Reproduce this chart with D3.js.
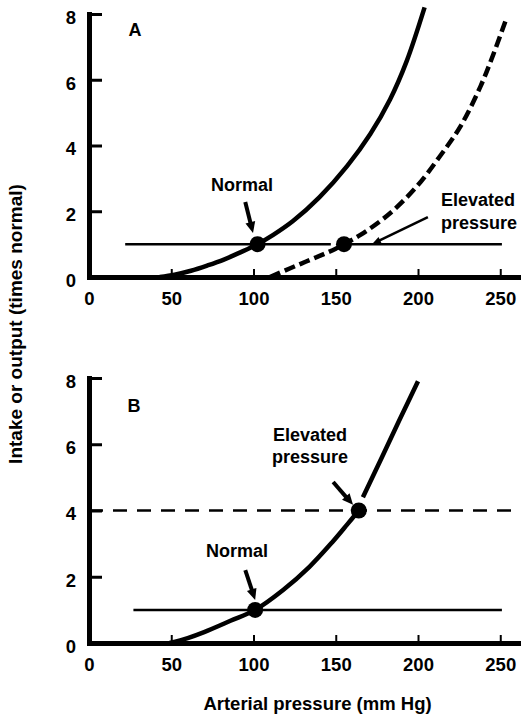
<!DOCTYPE html>
<meta charset="utf-8">
<script src="https://d3js.org/d3.v7.min.js"></script>
<style>
  body { margin: 0; background: #fff; }
  svg text { font-family: "Liberation Sans", Arial, Helvetica, sans-serif; font-weight: bold; fill: #000; }
</style>
<div id="chart"></div>
<script>

// tick values
var xTicks = [0, 50, 100, 150, 200, 250];
var yTicks = [0, 2, 4, 6, 8];

// panel A: renal output curves, [arterial pressure, times normal]
var outputNormalA = [[43, 0], [52, 0.07], [62, 0.19], [72, 0.35], [82, 0.53], [92, 0.75], [102.5, 1.0],
  [112, 1.28], [124, 1.7], [140, 2.42], [157, 3.38], [171, 4.35], [183, 5.4], [193, 6.55], [204, 8.2]];
var outputElevatedA = [[110, 0], [122, 0.26], [132, 0.47], [142, 0.68], [150, 0.86], [155, 1.0],
  [165, 1.28], [183, 1.94], [199, 2.74], [213, 3.65], [226, 4.6], [238, 5.8], [246, 6.8], [254, 7.9]];
var intakeA1 = [[22, 1], [147, 1]];
var intakeA2 = [[155, 1], [251, 1]];
var pointsA = [[102.5, 1], [155, 1]];

// panel B: one output curve, normal and raised intake
var outputB1 = [[49, 0], [60, 0.15], [70, 0.33], [86, 0.67], [101, 1.0], [118, 1.6], [134, 2.3],
  [148, 3.05], [157, 3.58], [164, 4.0]];
var outputB2 = [[166.5, 4.4], [178, 5.6], [189, 6.76], [200, 7.9]];
var intakeNormalB = [[27, 1], [251, 1]];
var intakeHighB = [[0, 4], [258, 4]];
var pointsB = [[101, 1], [164, 4]];

var W = 521, H = 719;

var svg = d3.select("#chart")
  .append("svg")
    .attr("width", W)
    .attr("height", H);

var x = d3.scaleLinear().domain([0, 262]).range([89, 520]);
var yA = d3.scaleLinear().domain([0, 8]).range([277, 14]);
var yB = d3.scaleLinear().domain([0, 8]).range([643, 378]);

function axes(y) {
  var gx = svg.append("g")
    .attr("transform", "translate(0," + y(0) + ")")
    .call(d3.axisBottom(x).tickValues(xTicks).tickSizeInner(-8).tickSizeOuter(0).tickPadding(15));
  var gy = svg.append("g")
    .attr("transform", "translate(" + x(0) + ",0)")
    .call(d3.axisLeft(y).tickValues(yTicks).tickSizeInner(-13).tickSizeOuter(0).tickPadding(13));
  [gx, gy].forEach(function(g) {
    g.attr("font-size", null).attr("font-family", null);
    g.select(".domain").attr("stroke", "#000").attr("stroke-width", 5).attr("stroke-linecap", "square");
    g.selectAll("text").style("font-size", "18.5px");
  });
  gx.selectAll(".tick line").attr("stroke", "#000").attr("stroke-width", 2);
  gy.selectAll(".tick line").attr("stroke", "#000").attr("stroke-width", 3);
  gy.selectAll("text").attr("dy", "0.5em");
}

function line(y, data, width, dash) {
  svg.append("path")
    .datum(data)
    .attr("fill", "none")
    .attr("stroke", "#000")
    .attr("stroke-width", width)
    .attr("stroke-dasharray", dash || null)
    .attr("d", d3.line()
      .x(function(d) { return x(d[0]); })
      .y(function(d) { return y(d[1]); })
      .curve(d3.curveCatmullRom.alpha(0.5)));
}

function dots(y, data) {
  svg.selectAll(null)
    .data(data)
    .enter()
    .append("circle")
      .attr("cx", function(d) { return x(d[0]); })
      .attr("cy", function(d) { return y(d[1]); })
      .attr("r", 8)
      .attr("fill", "#000");
}

function arrow(y, from, to, w, headLen, headW) {
  var x1 = x(from[0]), y1 = y(from[1]), x2 = x(to[0]), y2 = y(to[1]);
  var dx = x2 - x1, dy = y2 - y1, len = Math.hypot(dx, dy);
  var ux = dx / len, uy = dy / len;
  var bx = x2 - ux * headLen, by = y2 - uy * headLen;
  svg.append("line")
    .attr("x1", x1).attr("y1", y1).attr("x2", bx + ux).attr("y2", by + uy)
    .attr("stroke", "#000").attr("stroke-width", w);
  svg.append("path")
    .attr("d", "M" + x2 + "," + y2 +
      "L" + (bx - uy * headW / 2) + "," + (by + ux * headW / 2) +
      "L" + (bx + uy * headW / 2) + "," + (by - ux * headW / 2) + "Z")
    .attr("fill", "#000");
}

function label(y, px, py, txt, anchor, size) {
  svg.append("text")
    .attr("x", x(px))
    .attr("y", y(py))
    .attr("text-anchor", anchor)
    .style("font-size", size + "px")
    .text(txt);
}

// ---- panel A
axes(yA);
line(yA, intakeA1, 2.5);
line(yA, intakeA2, 2.5);
line(yA, outputNormalA, 4.5);
line(yA, outputElevatedA, 4.5, "11,5");
dots(yA, pointsA);
arrow(yA, [95, 2.28], [99.7, 1.34], 4, 11, 10);
arrow(yA, [206, 1.82], [172, 1.0], 2.5, 9, 7);
label(yA, 28, 7.33, "A", "middle", 18);
label(yA, 93, 2.62, "Normal", "middle", 18);
label(yA, 214, 2.16, "Elevated", "start", 18);
label(yA, 214, 1.46, "pressure", "start", 18);

// ---- panel B
axes(yB);
line(yB, intakeNormalB, 2.5);
line(yB, intakeHighB, 2.5, "14,10");
line(yB, outputB1, 4.5);
line(yB, outputB2, 4.5);
dots(yB, pointsB);
arrow(yB, [95, 2.2], [101, 1.3], 4, 11, 10);
arrow(yB, [148.4, 4.86], [160.5, 4.17], 4, 11, 10);
label(yB, 27.4, 6.97, "B", "middle", 18);
label(yB, 90, 2.6, "Normal", "middle", 18);
label(yB, 134.3, 6.1, "Elevated", "middle", 18);
label(yB, 134.3, 5.43, "pressure", "middle", 18);

// axis titles
svg.append("text")
  .attr("transform", "translate(22,324) rotate(-90)")
  .attr("text-anchor", "middle")
  .style("font-size", "19px")
  .text("Intake or output (times normal)");

svg.append("text")
  .attr("x", 317.5)
  .attr("y", 710)
  .attr("text-anchor", "middle")
  .style("font-size", "18.5px")
  .text("Arterial pressure (mm Hg)");

</script>
